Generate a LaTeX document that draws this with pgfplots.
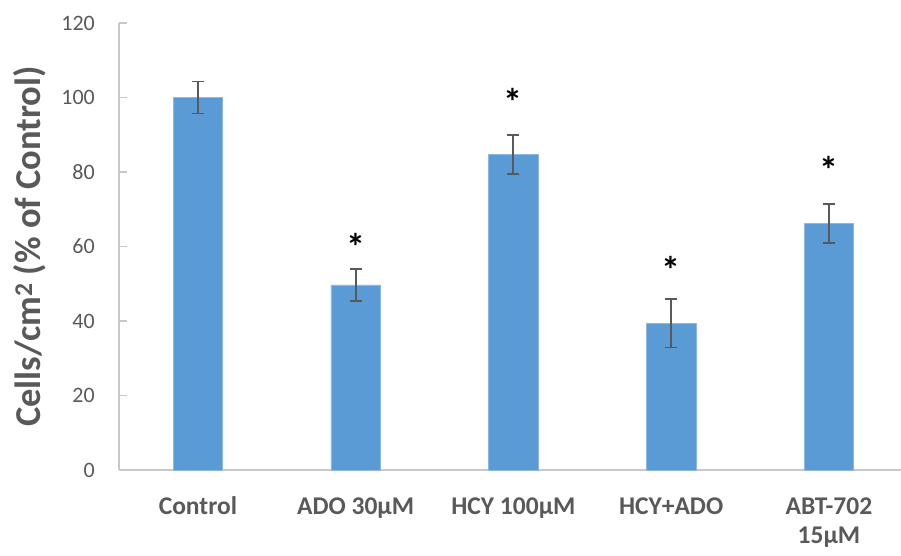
\documentclass[border=0pt]{standalone}
\usepackage{fontspec}
\setmainfont{Carlito}
\usepackage{pgfplots}
\usepackage{pgfplotstable}
\pgfplotsset{compat=1.18}

\definecolor{barblue}{HTML}{5B9BD5}
\definecolor{txtgray}{HTML}{595959}
\definecolor{axgray}{HTML}{C8C8C8}
\definecolor{errgray}{HTML}{595959}

% cell density, % of control, with error
\pgfplotstableread{
x  y      err
0  100.0  4.3
1  49.7   4.3
2  84.75  5.2
3  39.4   6.5
4  66.1   5.25
}\celldata

% significance marks
\pgfplotstableread{
x  y
1  60.0
2  98.7
3  53.7
4  80.5
}\sigdata

\begin{document}
\begin{tikzpicture}
\path[use as bounding box] (-119bp,-86bp) rectangle (782bp,470bp);
\begin{axis}[
  at={(0,0)}, anchor=south west,
  scale only axis,
  width=782bp, height=447bp,
  xmin=-0.5, xmax=4.457,
  ymin=0, ymax=120,
  ytick={0,20,...,120},
  xtick={0,1,2,3,4},
  xticklabels={Control, ADO 30µM, HCY 100µM, HCY+ADO,
    {\begin{tabular}[t]{@{}c@{}}ABT-702\\15µM\end{tabular}}},
  axis lines*=left,
  axis line style={draw=axgray, line width=1.3bp, -},
  xtick style={draw=none},
  ytick style={draw=axgray, line width=1.3bp},
  tick align=inside,
  major tick length=8bp,
  yticklabel style={font=\fontsize{22bp}{26bp}\selectfont, text=txtgray,
    inner sep=0pt, xshift=-24bp, anchor=east},
  xticklabel style={font=\bfseries\fontsize{25.5bp}{29bp}\selectfont, text=txtgray,
    inner sep=0pt, anchor=base, yshift=-44bp},
  /pgf/number format/assume math mode=true,
  ylabel={\textbf{Cells/cm\textsuperscript{2} (\% of Control)}},
  every axis y label/.style={
    at={([xshift=-78bp]axis description cs:0,0.5)},
    rotate=90, anchor=base, inner sep=0pt,
    font=\fontsize{36.5bp}{40bp}\selectfont, text=txtgray},
  clip=false,
]
\addplot[ybar, bar width=49.4bp, fill=barblue, draw=barblue!70!white, line width=0.6bp,
  error bars/.cd, y dir=both, y explicit,
  error bar style={draw=errgray, line width=1.8bp},
  error mark options={draw=errgray, line width=1.8bp, mark size=6bp, rotate=90}]
  table[x=x, y=y, y error=err] {\celldata};
\addplot[draw=none, mark=none, nodes near coords={\textbf{*}},
  every node near coord/.style={anchor=center, text=black, inner sep=0pt,
    font=\fontsize{38bp}{40bp}\selectfont}]
  table[x=x, y=y] {\sigdata};
\end{axis}
\end{tikzpicture}
\end{document}
